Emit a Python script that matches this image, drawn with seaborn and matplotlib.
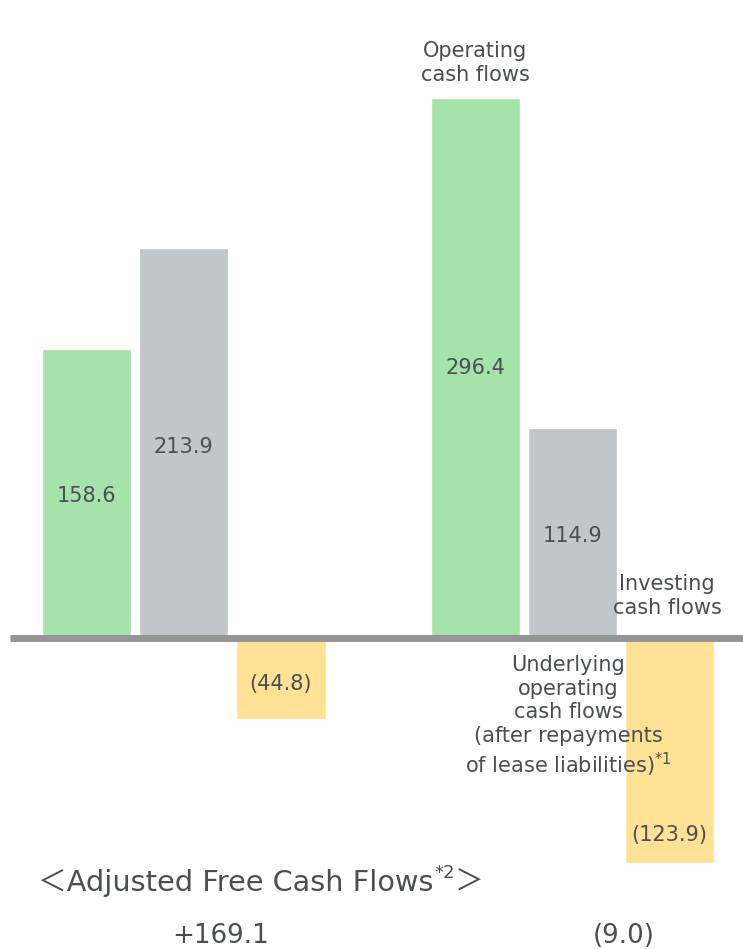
import matplotlib
matplotlib.use("Agg")
import matplotlib.pyplot as plt
import seaborn as sns
import pandas as pd

# ---- data ----
positions = [0, 1, 2, 4, 5, 6]
flow_types = ["Operating", "Underlying", "Investing", "Operating", "Underlying", "Investing"]
values = [158.6, 213.9, -44.8, 296.4, 114.9, -123.9]
value_labels = ["158.6", "213.9", "(44.8)", "296.4", "114.9", "(123.9)"]
label_frac = [0.49, 0.49, 0.57, 0.50, 0.485, 0.875]
adjusted_fcf = ["+169.1", "(9.0)"]

palette = {"Operating": "#a6e3aa", "Underlying": "#c1c6c9", "Investing": "#ffe196"}
text_color = "#4b4f52"

sns.set_theme(style="white")
plt.rcParams["font.family"] = ["DejaVu Sans", "Noto Sans CJK JP"]

W, H = 743, 949
fig = plt.figure(figsize=(W / 100, H / 100), dpi=100)
ax = fig.add_axes([0, 0, 1, 1])

df = pd.DataFrame({"pos": positions, "type": flow_types, "value": values})
sns.barplot(data=df, x="pos", y="value", hue="type", palette=palette,
            native_scale=True, dodge=False, width=0.92, legend=False,
            saturation=1, ax=ax, zorder=2)

slot = 97.2
x0 = 86.5
ax.set_xlim(-x0 / slot, (W - x0) / slot)
scale = 1.82
base = 637.5
ax.set_ylim(-(H - base) / scale, base / scale)
ax.axis("off")

ax.axhline(0, xmin=10 / W, xmax=1, color="#959595", lw=5.0, zorder=3,
           solid_capstyle="butt")

for p, v, lab, f in zip(positions, values, value_labels, label_frac):
    ax.text(p, v * f, lab, ha="center", va="center", fontsize=15, color=text_color, zorder=4)

def fpx(x, y):
    return x / W, 1 - y / H

fs = 15
fig.text(*fpx(475, 63), "Operating\ncash flows", ha="center", va="center",
         fontsize=fs, color=text_color, linespacing=1.2)
fig.text(*fpx(667, 596), "Investing\ncash flows", ha="center", va="center",
         fontsize=fs, color=text_color, linespacing=1.2)
fig.text(*fpx(568, 717), "Underlying\noperating\ncash flows\n(after repayments\nof lease liabilities)$^{*1}$",
         ha="center", va="center", fontsize=fs, color=text_color, linespacing=1.22, zorder=5)

# title built from pieces so the full-width brackets can use the CJK fallback
renderer = fig.canvas.get_renderer()
tx, ty = fpx(38, 883)
t1 = fig.text(tx, ty, "＜Adjusted Free Cash Flows", ha="left", va="center",
              fontsize=20.7, color=text_color)
bb = t1.get_window_extent(renderer)
x_sup = bb.x1 / W + 1 / W
t2 = fig.text(x_sup, ty + 10 / H, "*2", ha="left", va="center",
              fontsize=13, color=text_color)
bb2 = t2.get_window_extent(renderer)
fig.text(bb2.x1 / W, ty, "＞", ha="left", va="center",
         fontsize=20.7, color=text_color)

fig.text(*fpx(221, 936), adjusted_fcf[0], ha="center", va="center", fontsize=18.8, color=text_color)
fig.text(*fpx(624, 936), adjusted_fcf[1], ha="center", va="center", fontsize=18.8, color=text_color)

fig.savefig("out.png", dpi=100)
